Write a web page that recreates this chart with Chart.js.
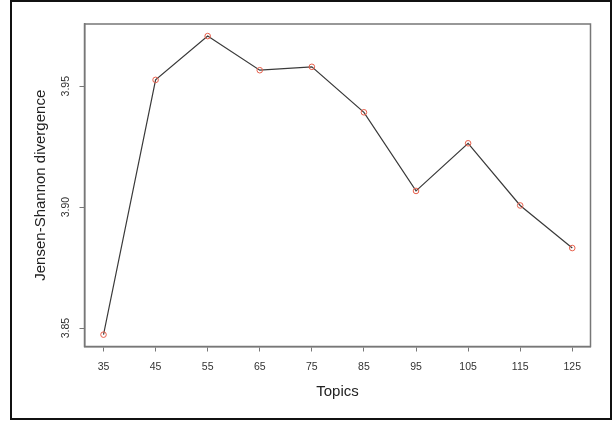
<!DOCTYPE html>
<html lang="en">
<head>
    <meta charset="UTF-8">
    <title>Jensen-Shannon divergence by topics</title>
    <script src="https://cdn.jsdelivr.net/npm/chart.js"></script>
    <style>
        body { margin: 0; background: #fff; }
        canvas { display: block; }
    </style>
</head>
<body>
    <canvas id="jsChart" width="615" height="421"></canvas>

    <script>
        // values
        const topics = [35, 45, 55, 65, 75, 85, 95, 105, 115, 125];
        const divergence = [3.8473, 3.9526, 3.9707, 3.9566, 3.9580, 3.9392, 3.9067, 3.9264, 3.9007, 3.8831];
        const yTicks = [3.85, 3.90, 3.95];

        const fontFamily = '"Liberation Sans", Arial, sans-serif';

        // outer frame, box round the plot and rotated y tick labels (R style)
        const rStyle = {
            id: 'rStyle',
            beforeDraw(chart) {
                const ctx = chart.ctx;
                ctx.save();
                ctx.fillStyle = '#fff';
                ctx.fillRect(0, 0, chart.width, chart.height);
                ctx.strokeStyle = '#111';
                ctx.lineWidth = 2;
                ctx.strokeRect(11, 1, 600, 418);
                ctx.restore();
            },
            afterDraw(chart) {
                const ctx = chart.ctx;
                const area = chart.chartArea;
                const y = chart.scales.y;
                ctx.save();
                ctx.strokeStyle = '#777';
                ctx.lineWidth = 1.5;
                ctx.strokeRect(area.left, area.top, area.right - area.left, area.bottom - area.top);
                ctx.fillStyle = '#333';
                ctx.font = '10.5px ' + fontFamily;
                ctx.textAlign = 'center';
                ctx.textBaseline = 'middle';
                yTicks.forEach(v => {
                    ctx.save();
                    ctx.translate(area.left - 18, y.getPixelForValue(v));
                    ctx.rotate(-Math.PI / 2);
                    ctx.fillText(v.toFixed(2), 0, 0);
                    ctx.restore();
                });
                ctx.restore();
            }
        };

        new Chart(document.getElementById('jsChart'), {
            type: 'line',
            data: {
                labels: topics,
                datasets: [{
                    data: topics.map((t, i) => ({ x: t, y: divergence[i] })),
                    borderColor: '#3a3a3a',
                    borderWidth: 1.2,
                    pointStyle: 'circle',
                    pointRadius: 2.8,
                    pointBorderColor: '#e8604c',
                    pointBorderWidth: 1,
                    pointBackgroundColor: 'rgba(0,0,0,0)',
                    tension: 0
                }]
            },
            options: {
                responsive: false,
                animation: false,
                layout: { padding: { left: 30, right: 24.5, top: 24, bottom: 20 } },
                plugins: {
                    legend: { display: false },
                    tooltip: { enabled: false }
                },
                scales: {
                    x: {
                        type: 'linear',
                        min: 31.35,
                        max: 128.5,
                        afterBuildTicks: s => { s.ticks = topics.map(v => ({ value: v })); },
                        afterFit: s => { s.height = 54.5; },
                        ticks: {
                            color: '#333',
                            font: { family: fontFamily, size: 10.5 },
                            padding: 9,
                            maxRotation: 0,
                            autoSkip: false
                        },
                        grid: { drawOnChartArea: false, tickLength: 5, color: '#777', lineWidth: 1 },
                        border: { color: '#777', width: 1.5 },
                        title: {
                            display: true,
                            text: 'Topics',
                            color: '#222',
                            font: { family: fontFamily, size: 15 },
                            padding: { top: 6, bottom: 0 }
                        }
                    },
                    y: {
                        min: 3.8424,
                        max: 3.9757,
                        afterBuildTicks: s => { s.ticks = yTicks.map(v => ({ value: v })); },
                        afterFit: s => { s.width = 54.5; },
                        ticks: { display: false },
                        grid: { drawOnChartArea: false, tickLength: 5, color: '#777', lineWidth: 1 },
                        border: { color: '#777', width: 1.5 },
                        title: {
                            display: true,
                            text: 'Jensen-Shannon divergence',
                            color: '#222',
                            font: { family: fontFamily, size: 15 },
                            padding: { top: 2, bottom: 0 }
                        }
                    }
                }
            },
            plugins: [rStyle]
        });
    </script>
</body>
</html>
